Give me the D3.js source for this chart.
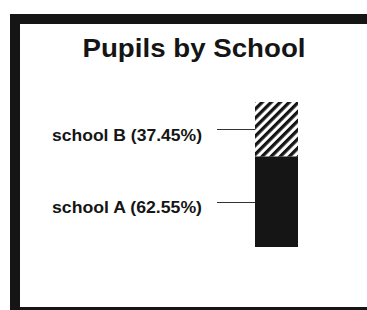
<!DOCTYPE html>
<html lang="en">
<head>
<meta charset="utf-8">
<title>Pupils by School</title>
<style>
  body { margin: 0; background: #fff; }
  svg { display: block; }
  text { font-family: "Liberation Sans", Arial, sans-serif; font-weight: bold; fill: #151515; }
  .title { font-size: 26px; }
  .label { font-size: 17px; }
</style>
</head>
<body>
<svg width="367" height="310"></svg>
<script src="https://d3js.org/d3.v7.min.js"></script>
<script>
// data
var schools = ['school A', 'school B'];
var shares = [62.55, 37.45];
var labels = ['school A (62.55%)', 'school B (37.45%)'];
var fills = ['#151515', 'url(#hatch)'];

var svg = d3.select('svg');

// hatch pattern for school B
var defs = svg.append('defs');
var pat = defs.append('pattern')
  .attr('id', 'hatch')
  .attr('patternUnits', 'userSpaceOnUse')
  .attr('width', 6.4)
  .attr('height', 10)
  .attr('patternTransform', 'rotate(45)');
pat.append('rect').attr('width', 6.4).attr('height', 10).attr('fill', '#fff');
pat.append('rect').attr('width', 3.3).attr('height', 10).attr('fill', '#151515');

// outer frame (runs off the right and bottom edge like the scan)
svg.append('rect')
  .attr('x', 15).attr('y', 19)
  .attr('width', 400).attr('height', 293)
  .attr('fill', 'none')
  .attr('stroke', '#151515')
  .attr('stroke-width', 10);

svg.append('text')
  .attr('class', 'title')
  .attr('x', 194)
  .attr('y', 57)
  .attr('text-anchor', 'middle')
  .attr('textLength', 223)
  .attr('lengthAdjust', 'spacingAndGlyphs')
  .text('Pupils by School');

var x = d3.scaleBand().domain(['all']).range([255, 298]).padding(0);
var y = d3.scaleLinear().domain([0, 100]).range([247, 102]);

var tops = d3.cumsum(shares);
var rows = schools.map(function (s, i) {
  return { name: s, label: labels[i], y0: tops[i] - shares[i], y1: tops[i], fill: fills[i] };
});

var g = svg.append('g');

g.selectAll('rect.seg')
  .data(rows)
  .enter()
  .append('rect')
  .attr('class', 'seg')
  .attr('x', x('all'))
  .attr('width', x.bandwidth())
  .attr('y', function (d) { return y(d.y1); })
  .attr('height', function (d) { return y(d.y0) - y(d.y1); })
  .attr('fill', function (d) { return d.fill; });

// leader lines
g.selectAll('line.lead')
  .data(rows)
  .enter()
  .append('line')
  .attr('class', 'lead')
  .attr('x1', 217)
  .attr('x2', x('all'))
  .attr('y1', function (d) { return Math.round(y((d.y0 + d.y1) / 2)) + 0.5; })
  .attr('y2', function (d) { return Math.round(y((d.y0 + d.y1) / 2)) + 0.5; })
  .attr('stroke', '#333')
  .attr('stroke-width', 1);

g.selectAll('text.label')
  .data(rows)
  .enter()
  .append('text')
  .attr('class', 'label')
  .attr('x', 52)
  .attr('y', function (d) { return y((d.y0 + d.y1) / 2) + 11.5; })
  .attr('textLength', 150)
  .attr('lengthAdjust', 'spacingAndGlyphs')
  .text(function (d) { return d.label; });
</script>
</body>
</html>
